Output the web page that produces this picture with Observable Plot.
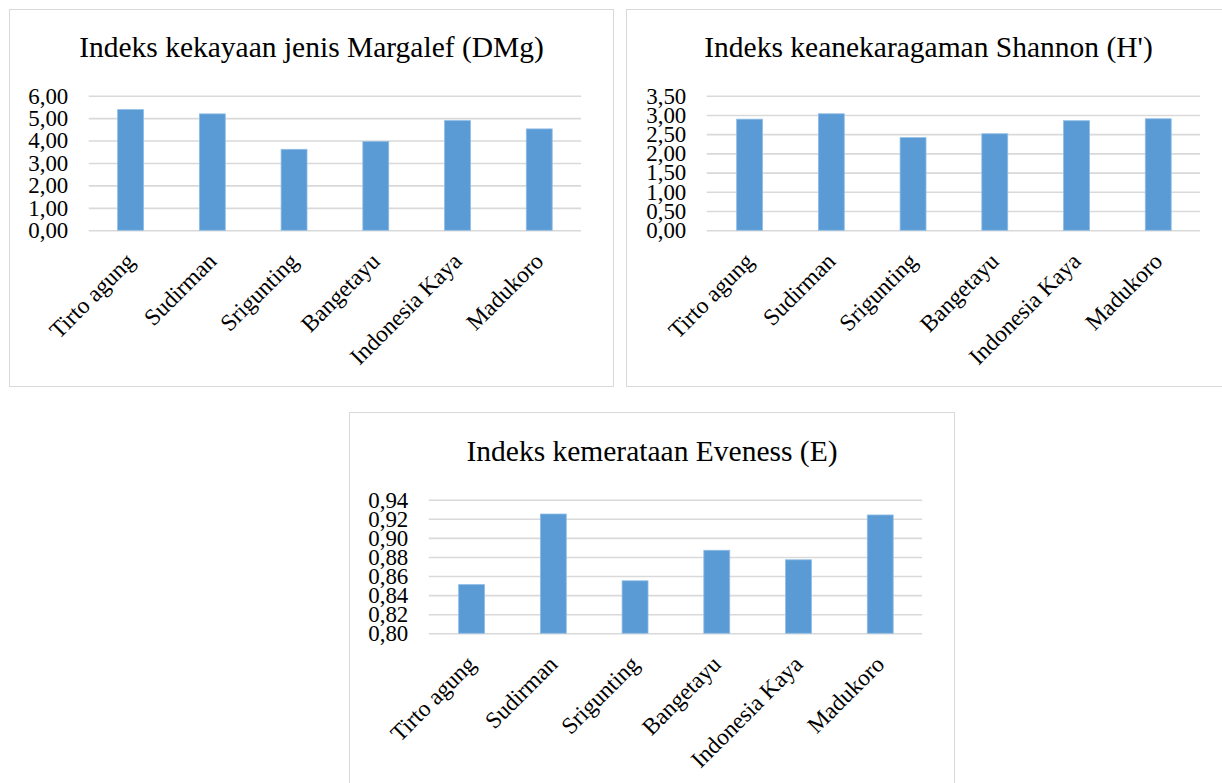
<!DOCTYPE html>
<html>
<head>
<meta charset="utf-8">
<script src="https://cdn.jsdelivr.net/npm/d3@7"></script>
<script src="https://cdn.jsdelivr.net/npm/@observablehq/plot@0.6"></script>
<style>
  html, body { margin: 0; padding: 0; background: #fff; overflow: hidden; }
  body { width: 1222px; height: 783px; position: relative; }
  .box { position: absolute; border: 1px solid #d9d9d9; box-sizing: border-box; background: #fff; }
  .box svg { position: absolute; left: -1px; top: -1px; }
  .title { position: absolute; left: 0; width: 100%; text-align: center; font-family: "Liberation Serif", "Times New Roman", serif; font-size: 29.5px; line-height: 29.5px; color: #000; white-space: nowrap; }
</style>
</head>
<body>
<div id="c1" class="box" style="left:9px; top:9px; width:605px; height:378px;"><div class="title" style="top:23px">Indeks kekayaan jenis Margalef (DMg)</div></div>
<div id="c2" class="box" style="left:626px; top:9px; width:605px; height:378px;"><div class="title" style="top:23px">Indeks keanekaragaman Shannon (H')</div></div>
<div id="c3" class="box" style="left:349px; top:412px; width:606px; height:390px;"><div class="title" style="top:24px">Indeks kemerataan Eveness (E)</div></div>
<script>
const categories = ["Tirto agung", "Sudirman", "Srigunting", "Bangetayu", "Indonesia Kaya", "Madukoro"];
const margalef = [5.38, 5.19, 3.61, 3.96, 4.89, 4.52];
const shannon = [2.89, 3.03, 2.41, 2.51, 2.85, 2.90];
const evenness = [0.851, 0.925, 0.855, 0.887, 0.877, 0.924];
const ticksMargalef = [0, 1, 2, 3, 4, 5, 6];
const ticksShannon = [0, 0.5, 1, 1.5, 2, 2.5, 3, 3.5];
const ticksEvenness = [0.80, 0.82, 0.84, 0.86, 0.88, 0.90, 0.92, 0.94];

const fmt = d => d3.format(".2f")(d).replace(".", ",");

function chart(values, ticks, base, opts) {
  const data = categories.map((c, i) => ({cat: c, v: values[i]}));
  return Plot.plot({
    width: opts.width,
    height: opts.height,
    marginTop: opts.marginTop,
    marginBottom: opts.marginBottom,
    marginLeft: opts.marginLeft,
    marginRight: opts.marginRight,
    style: {fontFamily: "'Liberation Serif', 'Times New Roman', serif", fontSize: "22px", color: "#000", background: "transparent", overflow: "visible"},
    x: {type: "band", domain: categories, paddingInner: 0.685, paddingOuter: 0.3425, axis: null},
    y: {domain: [ticks[0], ticks[ticks.length - 1]], label: null},
    marks: [
      Plot.gridY(ticks, {stroke: "#d9d9d9", strokeOpacity: 1, strokeWidth: 1.6}),
      Plot.barY(data, {x: "cat", y1: base, y2: "v", fill: "#5b9bd5", stroke: "#8fbde6", strokeWidth: 0.8}),
      Plot.axisY(ticks, {tickFormat: fmt, tickSize: 0, tickPadding: 21, fontSize: 23, fill: "#000", label: null}),
      Plot.text(categories, {x: d => d, frameAnchor: "bottom", rotate: -45, textAnchor: "end", dx: 5, dy: 32, fontSize: 23.5, fill: "#000"})
    ]
  });
}

document.getElementById("c1").appendChild(chart(margalef, ticksMargalef, 0,
  {width: 605, height: 378, marginTop: 87, marginBottom: 156, marginLeft: 80, marginRight: 31}));
document.getElementById("c2").appendChild(chart(shannon, ticksShannon, 0,
  {width: 605, height: 378, marginTop: 87, marginBottom: 156, marginLeft: 81, marginRight: 29}));
document.getElementById("c3").appendChild(chart(evenness, ticksEvenness, 0.80,
  {width: 606, height: 390, marginTop: 88, marginBottom: 168, marginLeft: 80, marginRight: 31}));
</script>
</body>
</html>
